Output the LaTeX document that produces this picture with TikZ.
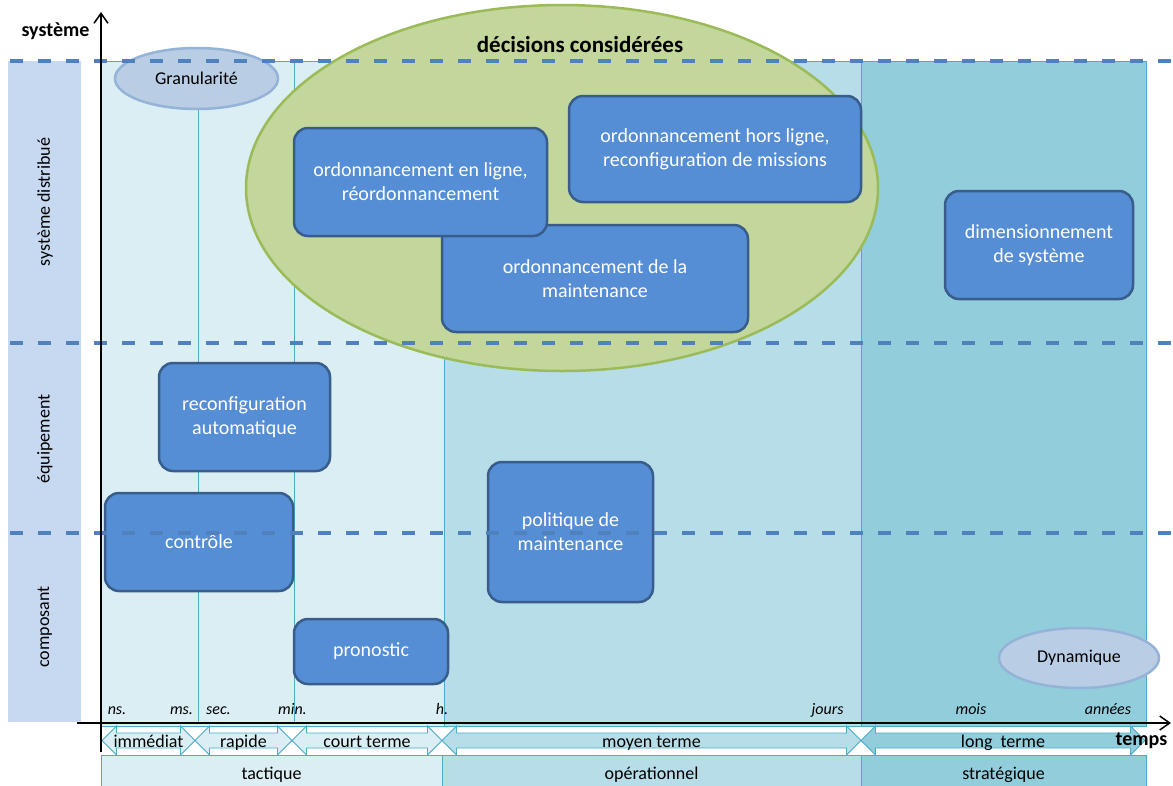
\documentclass[tikz,border=0pt]{standalone}
\usepackage{fontspec}
\setmainfont{Carlito}
\usetikzlibrary{shapes.geometric,arrows.meta}
\definecolor{leftbar}{HTML}{C6D9F1}
\definecolor{tact}{HTML}{DAEEF3}
\definecolor{oper}{HTML}{B7DDE8}
\definecolor{strat}{HTML}{92CDDC}
\definecolor{regborder}{HTML}{4BACC6}
\definecolor{dashcol}{HTML}{4F81BD}
\definecolor{boxfill}{HTML}{558ED5}
\definecolor{boxborder}{HTML}{385D8A}
\definecolor{greenfill}{HTML}{C3D69B}
\definecolor{greenborder}{HTML}{9BBB59}
\definecolor{ellfill}{HTML}{B9CDE5}
\definecolor{ellborder}{HTML}{95B3D7}
\newcommand{\timearrow}[5]{%
  \draw[regline, fill=#4] (#2,740.5) -- ({#2+14.5},726) -- ({#2+14.5},733) -- ({#3-14.5},733) -- ({#3-14.5},726) -- (#3,740.5) -- ({#3-14.5},755) -- ({#3-14.5},748) -- ({#2+14.5},748) -- ({#2+14.5},755) -- cycle;
  \node[lbl, anchor=base] (#1) at ({(#2+#3)/2},747) {#5};}
\begin{document}
\begin{tikzpicture}[x=1pt,y=-1pt,
  regline/.style={draw=regborder, line width=0.8pt},
  region/.style={regline, rectangle, anchor=north west, inner sep=0pt},
  lbl/.style={font=\fontsize{18}{22}\selectfont, inner sep=0pt},
  tick/.style={font=\fontsize{16}{19}\selectfont\itshape, inner sep=0pt, anchor=base},
  sidelbl/.style={font=\fontsize{18}{22}\selectfont, rotate=90, inner sep=0pt},
  decbox/.style={draw=boxborder, line width=2.5pt, fill=boxfill, rounded corners=14pt,
    text=white, align=center, font=\fontsize{20}{24}\selectfont, inner sep=0pt},
  softell/.style={ellipse, draw=ellborder, line width=2.5pt, fill=ellfill, inner sep=0pt,
    font=\fontsize{18}{22}\selectfont},
  levelline/.style={draw=dashcol, line width=4pt, dash pattern=on 13pt off 15pt},
  axis/.style={draw=black, line width=1.8pt, -{Straight Barb[length=10pt,width=14pt,line width=1.5pt]}},
  boldlbl/.style={font=\bfseries\fontsize{20}{24}\selectfont, inner sep=0pt, anchor=base}
]
\useasboundingbox (0,0) rectangle (1173,785);
% left bar
\fill[leftbar] (8,61) rectangle (81,722);
\node[sidelbl] (sd) at (45,202) {système distribué};
\node[sidelbl] (eq) at (45,439) {équipement};
\node[sidelbl] (co) at (45,627) {composant};
% regions
\node[region, fill=tact, minimum width=343pt, minimum height=665pt] (rtact) at (101,61) {};
\node[region, fill=oper, minimum width=417pt, minimum height=665pt] (roper) at (444,61) {};
\node[region, fill=strat, minimum width=285pt, minimum height=665pt] (rstrat) at (861,61) {};
\draw[regline] (198,61) -- (198,723);
\draw[regline] (294,61) -- (294,723);
% bottom bars
\node[region, fill=tact, minimum width=341pt, minimum height=31pt] (btact) at (101,755) {};
\node[region, fill=oper, minimum width=419pt, minimum height=31pt] (boper) at (442,755) {};
\node[region, fill=strat, minimum width=285pt, minimum height=31pt] (bstrat) at (861,755) {};
\node[lbl, anchor=base] at (271.5,779) {tactique};
\node[lbl, anchor=base] at (651.5,779) {opérationnel};
\node[lbl, anchor=base] at (1003.5,779) {stratégique};
% time arrows
\timearrow{aimm}{102}{195}{tact}{immédiat}
\timearrow{arap}{195}{292}{tact}{rapide}
\timearrow{acourt}{292}{442}{tact}{court terme}
\timearrow{amoyen}{442}{861}{oper}{moyen terme}
\timearrow{along}{861}{1145}{strat}{long~ terme}
% decisions ellipse
\node[ellipse, draw=greenborder, line width=2.5pt, fill=greenfill, minimum width=632pt, minimum height=366pt, inner sep=0pt] (dec) at (562,188) {};
\node[boldlbl, font=\bfseries\fontsize{23}{27}\selectfont] (dect) at (580,52) {décisions considérées};
% boxes
\node[decbox, minimum width=306pt, minimum height=107pt] (maint) at (595,278.5) {ordonnancement de la\\maintenance};
\node[decbox, minimum width=253pt, minimum height=108pt] (enligne) at (420.5,182) {ordonnancement en ligne,\\réordonnancement};
\node[decbox, minimum width=292pt, minimum height=106pt] (hors) at (715,149) {ordonnancement hors ligne,\\reconfiguration de missions};
\node[decbox, minimum width=188pt, minimum height=108pt] (dim) at (1039,245) {dimensionnement\\de système};
\node[decbox, minimum width=171pt, minimum height=108pt] (reconf) at (244.5,417) {reconfiguration\\automatique};
\node[decbox, minimum width=188pt, minimum height=98pt] (ctrl) at (199,542) {contrôle};
\node[decbox, minimum width=165pt, minimum height=140pt] (pol) at (570.5,532) {politique de\\maintenance};
\node[decbox, minimum width=154pt, minimum height=65pt] (pron) at (371,651.5) {pronostic};
% granularity / dynamics
\node[softell, minimum width=163pt, minimum height=61pt] (gran) at (196.5,78.5) {Granularité};
\node[softell, minimum width=160pt, minimum height=60pt] (dyn) at (1079,658) {Dynamique};
% level lines
\draw[levelline] (10,61) -- (1173,61);
\draw[levelline] (10,343) -- (1173,343);
\draw[levelline] (10,533) -- (1173,533);
% axes
\coordinate (yb) at (101,752);
\coordinate (yt) at (101,12);
\coordinate (xl) at (77,723);
\coordinate (xr) at (1171,723);
\draw[axis] (yb) -- (yt);
\draw[axis] (xl) -- (xr);
\node[boldlbl] (sys) at (55.5,36) {système};
\node[boldlbl] (tps) at (1141.5,745) {temps};
% ticks
\node[tick] (t1) at (117,714) {ns.};
\node[tick] (t2) at (181.5,714) {ms.};
\node[tick] (t3) at (218.5,714) {sec.};
\node[tick] (t4) at (292.5,714) {min.};
\node[tick] (t5) at (442,714) {h.};
\node[tick] (t6) at (827.5,714) {jours};
\node[tick] (t7) at (971,714) {mois};
\node[tick] (t8) at (1108,714) {années};
\end{tikzpicture}
\end{document}
